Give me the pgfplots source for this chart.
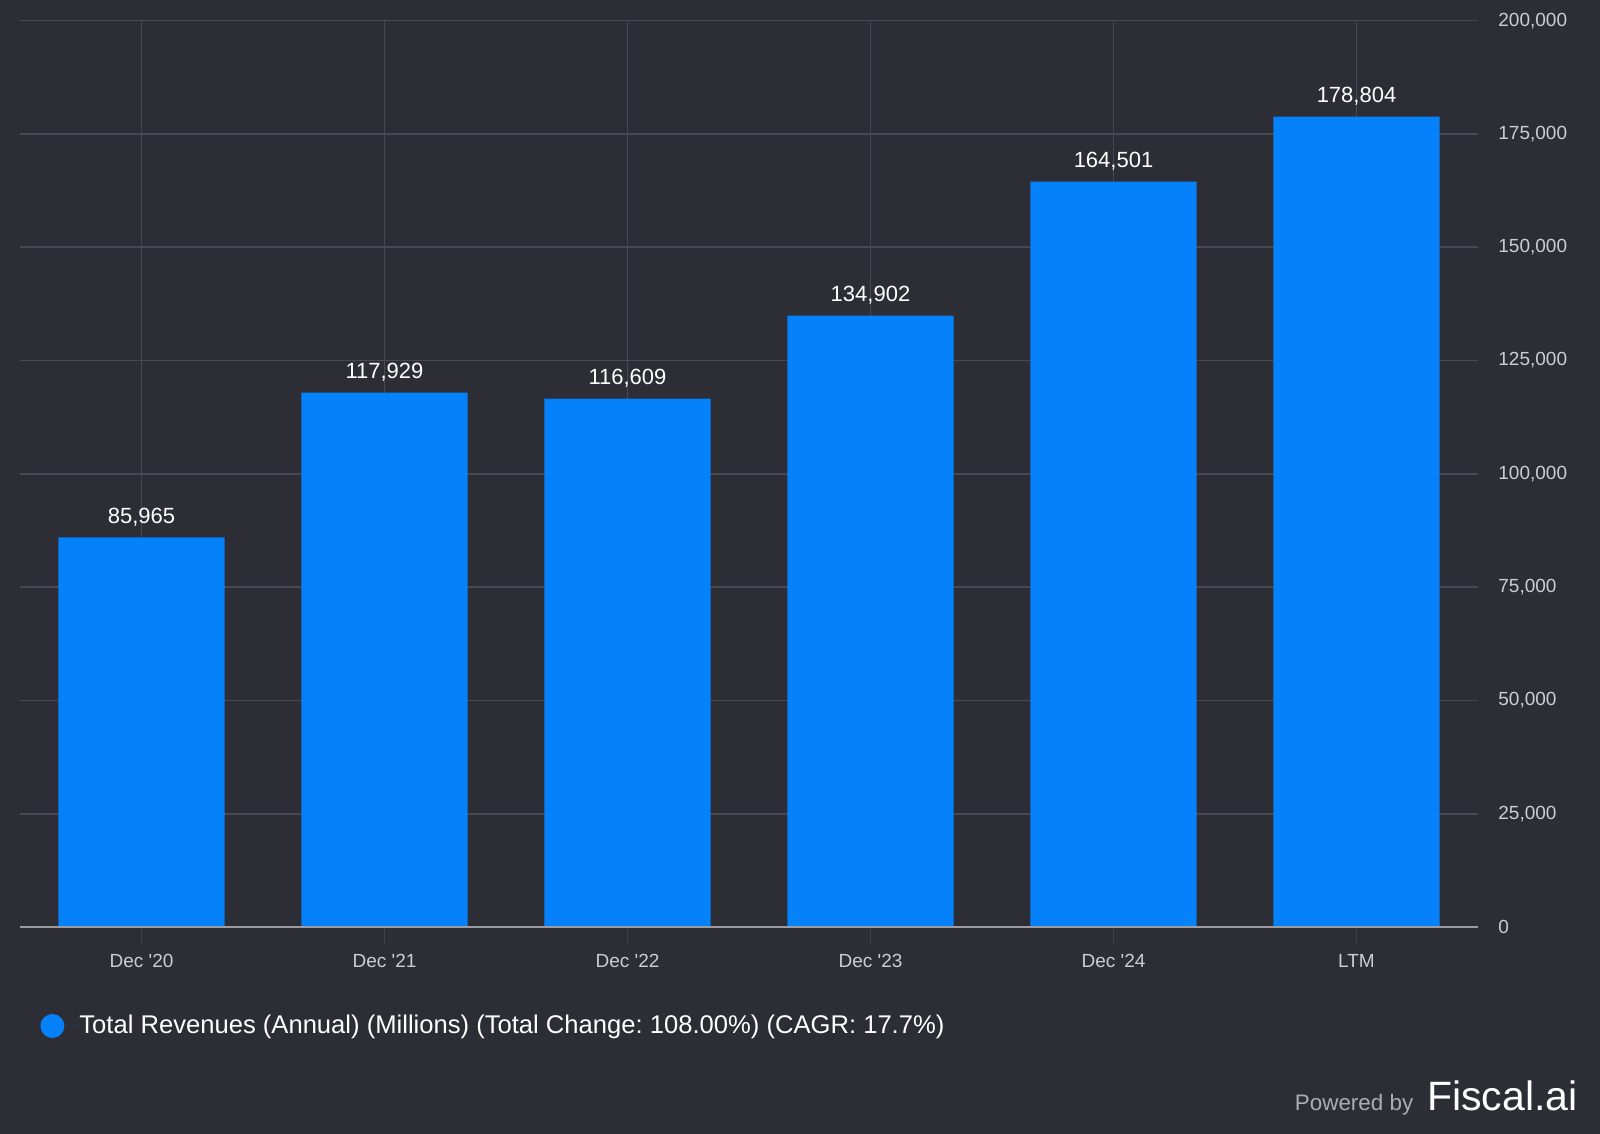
\documentclass[border=0pt]{standalone}
\usepackage{pgfplots}
\pgfplotsset{compat=1.18}
\usepackage{fontspec}
\setmainfont{Liberation Sans}
\frenchspacing
\definecolor{bg}{RGB}{44,45,53}
\definecolor{barblue}{RGB}{5,129,250}
\definecolor{gridc}{RGB}{72,73,82}
\definecolor{axisc}{RGB}{155,155,161}
\definecolor{tickc}{RGB}{62,63,71}
\definecolor{labc}{RGB}{205,205,210}
\definecolor{powc}{RGB}{172,172,180}
\begin{document}
\begin{tikzpicture}
\fill[bg] (0,0) rectangle (800pt,567pt);
\path[use as bounding box] (0,0) rectangle (800pt,567pt);
\begin{axis}[
  at={(10pt,103.5pt)}, anchor=south west,
  scale only axis, width=729pt, height=453.15pt,
  xmin=-0.5, xmax=5.5, ymin=0, ymax=200000,
  axis x line*=bottom, axis y line*=right,
  x axis line style={draw=axisc, line width=1pt},
  y axis line style={draw=none},
  xtick={0,...,5},
  xticklabels={Dec \textquotesingle20, Dec \textquotesingle21, Dec \textquotesingle22, Dec \textquotesingle23, Dec \textquotesingle24, LTM},
  ytick={0,25000,...,200000},
  scaled y ticks=false,
  /pgf/number format/fixed,
  /pgf/number format/precision=0,
  /pgf/number format/1000 sep={,},
  /pgf/number format/assume math mode=true,
  yticklabel style={anchor=west, inner sep=0pt, xshift=1.5pt},
  xticklabel style={anchor=base, inner sep=0pt, yshift=-12pt},
  tick label style={font=\fontsize{9.5}{11}\selectfont, text=labc},
  grid=major,
  major grid style={draw=gridc, line width=0.8pt},
  tick align=outside,
  major tick length=8.5pt,
  xtick style={draw=tickc, line width=0.8pt},
  ytick style={draw=none},
  legend style={draw=none, fill=none, at={(axis description cs:0,0)}, anchor=west, xshift=10pt, yshift=-49.5pt,
    font=\fontsize{12.8}{15}\selectfont, text=white, inner sep=0pt, nodes={inner sep=0pt}},
  legend cell align=left,
  legend image code/.code={\fill[barblue] (6pt,0pt) circle (6pt); \path (0pt,0pt) -- (19.5pt,0pt);},
]
\addplot[ybar, bar width=0.684, fill=barblue, draw=none,
  nodes near coords,
  every node near coord/.append style={font=\fontsize{11}{13}\selectfont, text=white, anchor=base, inner sep=0pt, yshift=7.2pt}]
  coordinates {(0,85965) (1,117929) (2,116609) (3,134902) (4,164501) (5,178804)};
\addlegendentry{Total Revenues (Annual) (Millions) (Total Change: 108.00\%) (CAGR: 17.7\%)}
\addplot[sharp plot, draw=axisc, line width=1pt, forget plot] coordinates {(-0.5,0) (5.5,0)};
\end{axis}
\node[anchor=base east, inner sep=0pt] at (789pt,11.5pt) {\fontsize{11.2}{13}\selectfont\textcolor{powc}{Powered by}\hspace{7pt}\fontsize{20.5}{22}\selectfont\textcolor{white}{Fiscal.ai}};
\end{tikzpicture}
\end{document}
